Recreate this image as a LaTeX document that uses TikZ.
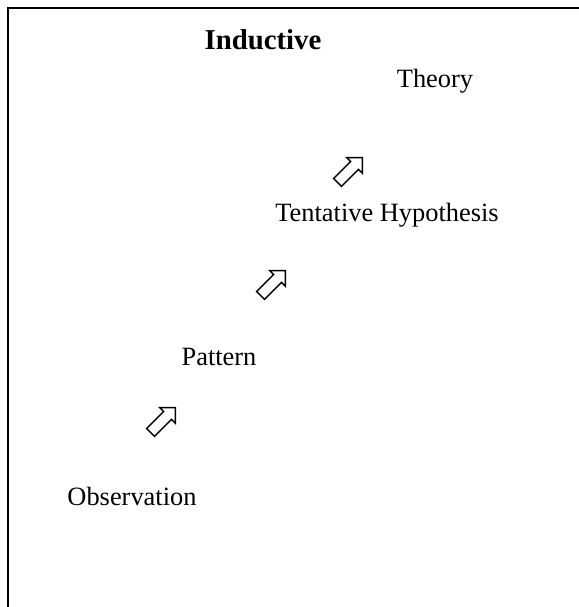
\documentclass[tikz,border=0pt]{standalone}
\usepackage{fontspec}
\setmainfont{Liberation Serif}
\usetikzlibrary{shapes.arrows}

\tikzset{
  stage/.style={font=\fontsize{13.2}{16}\selectfont, inner sep=0pt},
  heading/.style={font=\fontsize{14.4}{17}\selectfont\bfseries, inner sep=0pt},
  uparrow/.style={draw, single arrow, rotate=45, line width=0.75pt,
    minimum height=17.5pt, single arrow head extend=2.7pt,
    single arrow head indent=0pt, inner xsep=0pt, inner ysep=2.4pt}
}

\begin{document}
\begin{tikzpicture}[x=0.5pt,y=-0.5pt]
            \clip (0,0) rectangle (579,607);
            \useasboundingbox (0,0) rectangle (579,607);
            \draw[line width=1pt] (8,8) rectangle (620,640);
            \node[heading] (title) at (263,40) {Inductive};
            \node[stage] (theory) at (435,81) {Theory};
            \node[stage] (tentative) at (387,215) {Tentative Hypothesis};
            \node[stage] (pattern) at (219,357) {Pattern};
            \node[stage] (obs) at (132,496) {Observation};
            \node[uparrow] (a1) at (348,172) {};
            \node[uparrow] (a2) at (271,285) {};
            \node[uparrow] (a3) at (161,422) {};
        \end{tikzpicture}
\end{document}
